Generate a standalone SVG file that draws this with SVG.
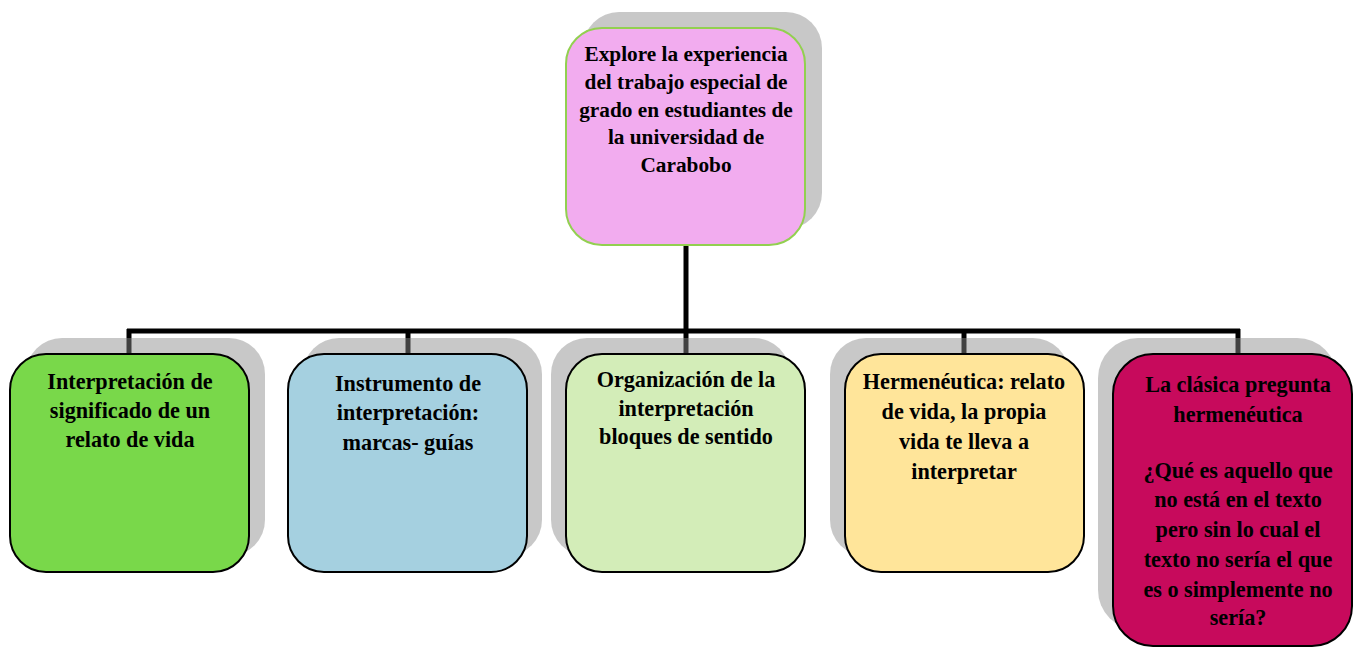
<svg xmlns="http://www.w3.org/2000/svg" width="1354" height="648" viewBox="0 0 1354 648">
<style>
.bg{fill:#ffffff}
.shadow{fill:#8a8a8a;fill-opacity:0.47}
.box{stroke:#000000;stroke-width:2}
.top{fill:#F2ACEF;stroke:#92D050;stroke-width:2}
.conn{stroke:#000000;stroke-width:5;fill:none}
text{font-family:"Liberation Serif","Times New Roman",serif;font-weight:bold;fill:#000000;text-anchor:middle}
.t1{font-size:21.3px}
.t2{font-size:22.2px}
</style>
<rect class="bg" x="0" y="0" width="1354" height="648"/>
<g id="connectors">
<path class="conn" d="M686,246 V331"/>
<path class="conn" d="M127,331 H1240"/>
<path class="conn" d="M129,329 V354"/>
<path class="conn" d="M408,329 V354"/>
<path class="conn" d="M686,329 V354"/>
<path class="conn" d="M964,329 V354"/>
<path class="conn" d="M1238,329 V354"/>
</g>
<g id="node-top">
<rect class="shadow" x="583" y="12" width="239" height="217" rx="36"/>
<rect class="top" x="566" y="28" width="239" height="217" rx="36"/>
<text class="t1" x="686" y="61">Explore la experiencia</text>
<text class="t1" x="686" y="89">del trabajo especial de</text>
<text class="t1" x="686" y="117">grado en estudiantes de</text>
<text class="t1" x="686" y="144">la universidad de</text>
<text class="t1" x="686" y="172">Carabobo</text>
</g>
<g id="node-1">
<rect class="shadow" x="26" y="338" width="239" height="218" rx="36"/>
<rect class="box" x="10" y="354" width="239" height="218" rx="36" fill="#79D84A"/>
<text class="t2" x="130" y="389">Interpretación de</text>
<text class="t2" x="130" y="418">significado de un</text>
<text class="t2" x="130" y="447">relato de vida</text>
</g>
<g id="node-2">
<rect class="shadow" x="303" y="338" width="239" height="218" rx="36"/>
<rect class="box" x="288" y="354" width="239" height="218" rx="36" fill="#A5D0E0"/>
<text class="t2" x="408" y="391">Instrumento de</text>
<text class="t2" x="408" y="420">interpretación:</text>
<text class="t2" x="408" y="450">marcas- guías</text>
</g>
<g id="node-3">
<rect class="shadow" x="551" y="338" width="239" height="218" rx="36"/>
<rect class="box" x="566" y="354" width="239" height="218" rx="36" fill="#D3EDB8"/>
<text class="t2" x="686" y="387">Organización de la</text>
<text class="t2" x="686" y="416">interpretación</text>
<text class="t2" x="686" y="444">bloques de sentido</text>
</g>
<g id="node-4">
<rect class="shadow" x="830" y="338" width="239" height="218" rx="36"/>
<rect class="box" x="845" y="354" width="239" height="218" rx="36" fill="#FFE59A"/>
<text class="t2" x="964" y="389">Hermenéutica: relato</text>
<text class="t2" x="964" y="419">de vida, la propia</text>
<text class="t2" x="964" y="449">vida te lleva a</text>
<text class="t2" x="964" y="479">interpretar</text>
</g>
<g id="node-5">
<rect class="shadow" x="1098" y="338" width="239" height="292" rx="40"/>
<rect class="box" x="1113" y="354" width="239" height="292" rx="40" fill="#C70A5C"/>
<text class="t2" x="1238" y="392">La clásica pregunta</text>
<text class="t2" x="1238" y="422">hermenéutica</text>
<text class="t2" x="1238" y="478">¿Qué es aquello que</text>
<text class="t2" x="1238" y="507">no está en el texto</text>
<text class="t2" x="1238" y="537">pero sin lo cual el</text>
<text class="t2" x="1238" y="567">texto no sería el que</text>
<text class="t2" x="1238" y="597">es o simplemente no</text>
<text class="t2" x="1238" y="625">sería?</text>
</g>
</svg>
